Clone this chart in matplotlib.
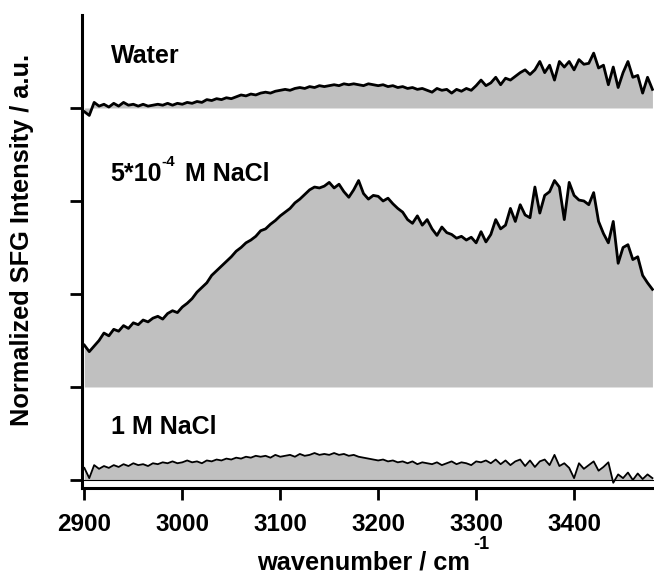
import numpy as np
import matplotlib
matplotlib.use("Agg")
import matplotlib.pyplot as plt

plt.rcParams["font.family"] = ["Liberation Sans", "DejaVu Sans"]
plt.rcParams["font.weight"] = "bold"

# wavenumber grid (cm^-1)
wavenumber = np.arange(2900, 3481, 5)

# normalized SFG intensity of each spectrum
nacl_1m = [
    0.13, 0.02, 0.16, 0.12, 0.15, 0.13, 0.16, 0.14, 0.17, 0.15, 0.18,
    0.16, 0.17, 0.15, 0.18, 0.17, 0.19, 0.18, 0.20, 0.18, 0.19,
    0.21, 0.19, 0.20, 0.18, 0.21, 0.20, 0.22, 0.21, 0.23, 0.22,
    0.24, 0.23, 0.25, 0.24, 0.26, 0.25, 0.26, 0.24, 0.27, 0.25,
    0.26, 0.27, 0.25, 0.28, 0.26, 0.27, 0.29, 0.27, 0.28, 0.27,
    0.29, 0.27, 0.28, 0.26, 0.27, 0.25, 0.24, 0.23, 0.22, 0.21,
    0.22, 0.20, 0.21, 0.19, 0.20, 0.18, 0.20, 0.17, 0.19, 0.18,
    0.17, 0.19, 0.16, 0.18, 0.20, 0.17, 0.19, 0.18, 0.16, 0.20,
    0.19, 0.21, 0.18, 0.22, 0.17, 0.21, 0.16, 0.20, 0.22, 0.15,
    0.21, 0.14, 0.20, 0.22, 0.16, 0.27, 0.15, 0.18, 0.13, 0.02,
    0.18, 0.12, 0.16, 0.20, 0.10, 0.14, 0.19, -0.03, 0.06, 0.02,
    0.08, 0.00, 0.07, 0.01, 0.06, 0.02,
]
nacl_5e4 = [
    0.45, 0.38, 0.44, 0.50, 0.58, 0.55, 0.62, 0.60, 0.66, 0.63, 0.69,
    0.67, 0.72, 0.70, 0.74, 0.76, 0.73, 0.79, 0.82, 0.80, 0.86,
    0.90, 0.95, 1.02, 1.07, 1.12, 1.20, 1.25, 1.30, 1.35, 1.40,
    1.46, 1.50, 1.55, 1.58, 1.62, 1.68, 1.70, 1.75, 1.79, 1.84,
    1.88, 1.92, 1.98, 2.02, 2.07, 2.12, 2.15, 2.14, 2.16, 2.20,
    2.14, 2.18, 2.10, 2.04, 2.12, 2.22, 2.08, 2.02, 2.06, 2.05,
    2.00, 2.03, 1.97, 1.92, 1.88, 1.80, 1.76, 1.84, 1.74, 1.80,
    1.70, 1.63, 1.72, 1.66, 1.64, 1.60, 1.62, 1.58, 1.61, 1.55,
    1.67, 1.56, 1.64, 1.80, 1.70, 1.74, 1.92, 1.78, 1.96, 1.85,
    1.82, 2.15, 1.87, 2.06, 2.10, 2.22, 2.15, 1.80, 2.20, 2.06,
    2.01, 2.00, 1.96, 2.09, 1.78, 1.65, 1.55, 1.78, 1.33, 1.50,
    1.53, 1.37, 1.40, 1.20, 1.12, 1.05,
]
water = [
    -0.04, -0.08, 0.06, 0.02, 0.04, 0.01, 0.05, 0.02, 0.06, 0.03, 0.04,
    0.02, 0.04, 0.02, 0.03, 0.04, 0.03, 0.05, 0.03, 0.05, 0.04,
    0.06, 0.05, 0.07, 0.06, 0.09, 0.08, 0.10, 0.09, 0.11, 0.10,
    0.12, 0.14, 0.13, 0.15, 0.14, 0.16, 0.17, 0.16, 0.18, 0.19,
    0.20, 0.19, 0.21, 0.22, 0.21, 0.23, 0.22, 0.24, 0.23, 0.24,
    0.25, 0.24, 0.26, 0.25, 0.26, 0.25, 0.24, 0.26, 0.25, 0.24,
    0.25, 0.23, 0.24, 0.22, 0.23, 0.21, 0.22, 0.20, 0.21, 0.19,
    0.17, 0.21, 0.19, 0.20, 0.16, 0.20, 0.18, 0.21, 0.19, 0.24,
    0.30, 0.24, 0.27, 0.33, 0.25, 0.32, 0.30, 0.34, 0.38, 0.41,
    0.36, 0.41, 0.50, 0.38, 0.46, 0.30, 0.50, 0.44, 0.50, 0.41,
    0.52, 0.47, 0.48, 0.59, 0.43, 0.46, 0.25, 0.44, 0.22, 0.38,
    0.50, 0.33, 0.35, 0.16, 0.33, 0.20,
]

# (data, vertical offset, line width)
spectra = [
    (nacl_1m, 0, 1.3),
    (nacl_5e4, 1, 2.0),
    (water, 4, 2.0),
]

fig = plt.figure(figsize=(6.54, 5.76), dpi=100)
ax = fig.add_axes([0.1254, 0.1528, 0.8746, 0.8212])

for vals, off, lw in spectra:
    y = off + np.asarray(vals)
    ax.fill_between(wavenumber, off, y, color="#c0c0c0", lw=0)
    ax.plot(wavenumber, y, color="black", lw=lw)

ax.axhline(0, color="black", lw=0.8, zorder=1.5)

fs = 18
ax.text(2927, 4.48, "Water", fontsize=fs, va="baseline")
ax.text(2926, 3.21, "5*10", fontsize=fs, va="baseline")
ax.text(2979, 3.376, "-4", fontsize=11, va="baseline")
ax.text(3003, 3.21, "M NaCl", fontsize=fs, va="baseline")
ax.text(2927, 0.49, "1 M NaCl", fontsize=fs, va="baseline")

ax.set_xlim(2897.6, 3481.6)
ax.set_ylim(-0.086, 5.0)
ax.set_xticks([2900, 3000, 3100, 3200, 3300, 3400])
ax.set_yticks([0, 1, 2, 3, 4])
ax.set_yticklabels([])
for s in ["top", "right"]:
    ax.spines[s].set_visible(False)
for s in ["left", "bottom"]:
    ax.spines[s].set_linewidth(2.2)
ax.tick_params(direction="out", length=8.5, width=2, labelsize=17.5, pad=9.5)

fig.text(22.5 / 654, 1 - 240 / 576, "Normalized SFG Intensity / a.u.", rotation=90,
         fontsize=18.3, ha="center", va="center")
fig.text(470 / 654, 7 / 576, "wavenumber / cm", fontsize=18.3, ha="right", va="baseline")
fig.text(473 / 654, 27 / 576, "-1", fontsize=13, ha="left", va="baseline")

fig.savefig("out.png", dpi=100)
plt.close(fig)
